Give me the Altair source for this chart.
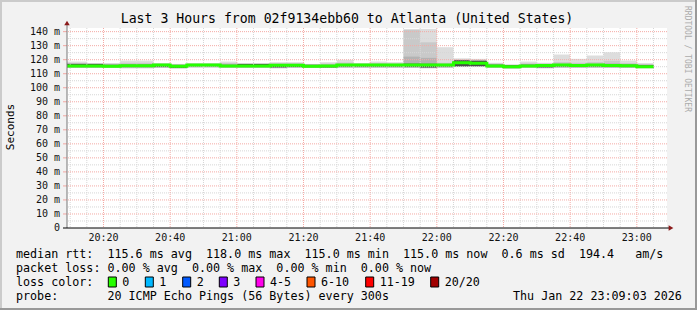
import altair as alt
import pandas as pd

# ---------------- data ----------------
# 5-minute bins, start minute after 20:00 (20:05 ... 23:00)
bin_start = [5 + 5 * k for k in range(36)]
smoke_hi = [118.7, 118.7, 117.5, 117.5, 119.4, 119.4, 117.6, 117.0, 117.6, 117.6, 118.7, 117.3,
            117.3, 118.2, 118.2, 117.0, 118.2, 119.9, 117.6, 118.7, 118.2, 141.5, 142.0, 128.9,
            121.0, 120.6, 117.8, 116.6, 118.7, 117.8, 123.7, 120.6, 123.0, 125.3, 119.4, 117.5]
smoke_mid = [117.6, 117.6, 117.2, 117.2, 117.8, 117.8, 117.2, 116.8, 117.2, 117.2, 117.6, 117.1,
             117.1, 117.5, 117.5, 116.8, 117.2, 118.0, 117.2, 117.6, 117.4, 141.5, 132.4, 117.8,
             120.2, 119.9, 117.2, 116.4, 117.4, 117.2, 118.4, 117.8, 118.4, 119.2, 117.6, 117.0]
smoke_in = [117.2, 117.2, 117.0, 116.8, 117.0, 117.0, 116.9, 116.5, 116.9, 116.9, 117.0, 117.0,
            117.0, 117.0, 117.0, 116.6, 116.7, 117.2, 117.0, 117.1, 117.0, 122.2, 121.3, 117.2,
            119.8, 119.6, 116.8, 116.2, 116.8, 116.9, 117.3, 117.0, 117.3, 117.4, 116.9, 116.4]
core_hi = [117.0, 117.0, 117.0, 116.3, 116.4, 116.4, 116.8, 116.0, 116.8, 116.8, 116.3, 117.0,
           117.0, 116.6, 116.6, 116.3, 116.2, 116.8, 116.8, 116.8, 116.8, 117.2, 117.1, 116.8,
           119.6, 119.2, 116.4, 116.0, 116.4, 116.7, 116.8, 116.7, 116.8, 116.7, 116.4, 116.0]
median_rtt = [115.5, 115.5, 115.5, 115.4, 115.7, 115.7, 116.3, 115.3, 116.2, 116.2, 115.5, 115.5,
              115.5, 116.0, 116.0, 115.4, 115.5, 116.2, 116.2, 116.2, 116.2, 116.2, 116.2, 116.2,
              117.9, 117.5, 115.5, 115.0, 115.5, 115.9, 116.2, 115.9, 116.2, 115.9, 115.6, 115.0]
core_lo = [114.8, 114.8, 114.8, 114.8, 115.0, 115.0, 115.0, 114.2, 115.4, 115.4, 115.0, 114.8,
           114.8, 114.5, 114.9, 114.7, 114.5, 115.2, 115.2, 115.2, 115.2, 115.0, 114.4, 115.2,
           115.3, 115.4, 114.8, 114.1, 114.8, 114.5, 115.2, 115.0, 115.2, 115.0, 114.8, 114.4]
smoke_lo = [114.2, 114.2, 114.2, 114.2, 114.0, 114.0, 114.3, 113.9, 114.6, 114.6, 114.3, 114.3,
            114.3, 114.0, 114.3, 114.2, 114.2, 114.4, 114.4, 114.4, 114.4, 114.2, 114.0, 114.4,
            114.8, 114.8, 114.3, 113.8, 114.3, 114.0, 114.4, 114.3, 114.4, 114.3, 114.2, 114.0]

x_major = [20, 40, 60, 80, 100, 120, 140, 160, 180]          # minutes after 20:00
x_labels = ["20:20", "20:40", "21:00", "21:20", "21:40", "22:00", "22:20", "22:40", "23:00"]
x_minor = [v for v in range(10, 190, 5) if v % 20 != 0]
y_ticks = [0, 10, 20, 30, 40, 50, 60, 70, 80, 90, 100, 110, 120, 130, 140]
y_labels = ["0\u00a0\u00a0", "10 m", "20 m", "30 m", "40 m", "50 m", "60 m", "70 m", "80 m",
            "90 m", "100 m", "110 m", "120 m", "130 m", "140 m"]
y_major = [10, 20, 30, 40, 50, 60, 70, 80, 90, 100, 110, 120, 130, 140]
y_minor = [5, 15, 25, 35, 45, 55, 65, 75, 85, 95, 105, 115, 125, 135]

title_text = "Last 3 Hours from 02f9134ebb60 to Atlanta (United States)"
line_rtt = "median rtt:  115.6 ms avg  118.0 ms max  115.0 ms min  115.0 ms now  0.6 ms sd  194.4   am/s"
line_loss = "packet loss: 0.00 % avg  0.00 % max  0.00 % min  0.00 % now"
line_color = "loss color:"
line_probe = "probe:       20 ICMP Echo Pings (56 Bytes) every 300s"
date_text = "Thu Jan 22 23:09:03 2026"
loss_labels = ["0", "1", "2", "3", "4-5", "6-10", "11-19", "20/20"]
loss_colors = ["#26ff00", "#00b8ff", "#0059ff", "#7e00ff", "#ff00ea", "#ff5500", "#ff0000", "#a10000"]

NB = "\u00a0"
def nb(s):
    return s.replace(" ", NB)

df = pd.DataFrame({
    "s": bin_start,
    "e": [s + 5 for s in bin_start],
    "hi": smoke_hi, "mid": smoke_mid, "inn": smoke_in,
    "chi": core_hi, "med": median_rtt, "clo": core_lo, "lo": smoke_lo,
})
df_line = pd.DataFrame({"t": bin_start + [bin_start[-1] + 5],
                        "m": median_rtt + [median_rtt[-1]]})

XS = alt.Scale(domain=[9.05, 189.05], nice=False, zero=False)
YS = alt.Scale(domain=[0, 142.6], nice=False)
MONO = "DejaVu Sans Mono"
FS = 11.7

base = alt.Chart(df)

def band(lo, hi, color):
    return base.mark_rect(color=color, clip=True).encode(
        x=alt.X("s:Q", scale=XS, axis=None), x2="e:Q",
        y=alt.Y(f"{lo}:Q", scale=YS, axis=None), y2=f"{hi}:Q")

outer = band("lo", "hi", "#dddddd")
mid = band("lo", "mid", "#c9c9c9")
inner = band("lo", "inn", "#b3b3b3")
core = band("clo", "chi", "#4a4a4a")

gx_minor = alt.Chart(pd.DataFrame({"v": x_minor})).mark_rule(
    color="#d6d6d6", strokeDash=[1, 1], strokeWidth=1).encode(x=alt.X("v:Q", scale=XS, axis=None))
gy_minor = alt.Chart(pd.DataFrame({"v": y_minor})).mark_rule(
    color="#d6d6d6", strokeDash=[1, 1], strokeWidth=1).encode(y=alt.Y("v:Q", scale=YS, axis=None))
gx_major = alt.Chart(pd.DataFrame({"v": x_major})).mark_rule(
    color="#f4aaa5", strokeDash=[1, 1], strokeWidth=1).encode(x=alt.X("v:Q", scale=XS, axis=None))
gy_major = alt.Chart(pd.DataFrame({"v": y_major})).mark_rule(
    color="#f4aaa5", strokeDash=[1, 1], strokeWidth=1).encode(y=alt.Y("v:Q", scale=YS, axis=None))

median = alt.Chart(df_line).mark_line(color="#26ff00", strokeWidth=3, interpolate="step-after",
                                      clip=True).encode(
    x=alt.X("t:Q", scale=XS, axis=None), y=alt.Y("m:Q", scale=YS, axis=None))

# axis labels and ticks, placed through the scales
df_xl = pd.DataFrame({"v": x_major, "lab": x_labels})
df_yl = pd.DataFrame({"v": y_ticks, "lab": [nb(s) for s in y_labels]})
x_lab = alt.Chart(df_xl).mark_text(font=MONO, fontSize=10, color="#111111", align="center",
                                   baseline="middle").encode(
    x=alt.X("v:Q", scale=XS, axis=None), y=alt.value(209.5), text="lab:N")
y_lab = alt.Chart(df_yl).mark_text(font=MONO, fontSize=10, color="#111111", align="right",
                                   baseline="middle").encode(
    y=alt.Y("v:Q", scale=YS, axis=None), x=alt.value(-7), text="lab:N")
y_tick = alt.Chart(pd.DataFrame({"v": y_major})).mark_rule(color="#f2a7a2", strokeWidth=1).encode(
    y=alt.Y("v:Q", scale=YS, axis=None), x=alt.value(-4), x2=alt.value(0))

one = alt.Chart(pd.DataFrame({"d": [0]}))

def rule(x, x2, y, y2, color, w=1):
    return one.mark_rule(color=color, strokeWidth=w).encode(
        x=alt.value(x), x2=alt.value(x2), y=alt.value(y), y2=alt.value(y2))

left_axis = rule(0, 0, 200, -3, "#777777")
bottom_axis = rule(-4, 602, 200, 200, "#000000")
arrow_up = one.mark_point(shape="triangle-up", filled=True, color="#8b1a1a", size=30, opacity=1).encode(
    x=alt.value(0), y=alt.value(-5))
arrow_right = one.mark_point(shape="triangle-right", filled=True, color="#8b1a1a", size=30, opacity=1).encode(
    x=alt.value(604), y=alt.value(200))

frame = [
    rule(-67, 630, -27, -27, "#cbcbcb", 2),
    rule(-66, -66, -28, 282, "#cbcbcb", 2),
    rule(-67, 630, 281, 281, "#999999", 2),
    rule(629, 629, -28, 282, "#999999", 2),
]

def text(s, x, y, size, align="left", angle=0, color="#000000"):
    kw = dict(text=s, font=MONO, fontSize=size, align=align, baseline="middle", color=color)
    if angle:
        kw["angle"] = angle
    return one.mark_text(**kw).encode(x=alt.value(x), y=alt.value(y))

texts = [
    text(nb(title_text), 280, -9, 13.2, align="center"),
    text("Seconds", -56, 99, 11, align="center", angle=270),
    text(nb("RRDTOOL / TOBI OETIKER"), 620, 31, 8, align="center", angle=90, color="#ababab"),
    text(nb(line_rtt), -51, 226, FS),
    text(nb(line_loss), -51, 240, FS),
    text(nb(line_color), -51, 254, FS),
    text(nb(line_probe), -51, 268, FS),
    text(nb(date_text), 446, 268, FS),
]

box_x = [108.3, 145.3, 182.7, 219.3, 256.0, 307.0, 365.7, 430.7]
boxes = []
for lab, col, bx in zip(loss_labels, loss_colors, box_x):
    rx = bx - 67
    boxes.append(one.mark_rect(color=col, stroke="#000000", strokeWidth=1).encode(
        x=alt.value(rx), x2=alt.value(rx + 8), y=alt.value(249), y2=alt.value(259)))
    boxes.append(text(lab, rx + 14, 254, FS))

chart = alt.layer(
    outer, mid, inner, core,
    gx_minor, gy_minor, gx_major, gy_major,
    median,
    x_lab, y_lab, y_tick,
    left_axis, bottom_axis, arrow_up, arrow_right,
    *frame, *texts, *boxes,
).properties(
    width=600, height=200,
    autosize=alt.AutoSizeParams(type="none"),
    padding={"left": 67, "top": 28, "right": 30, "bottom": 82},
    background="#f2f2f2",
).configure_view(fill="white", strokeWidth=0)

chart.save("out.html", embed_options={"renderer": "svg", "actions": False})
